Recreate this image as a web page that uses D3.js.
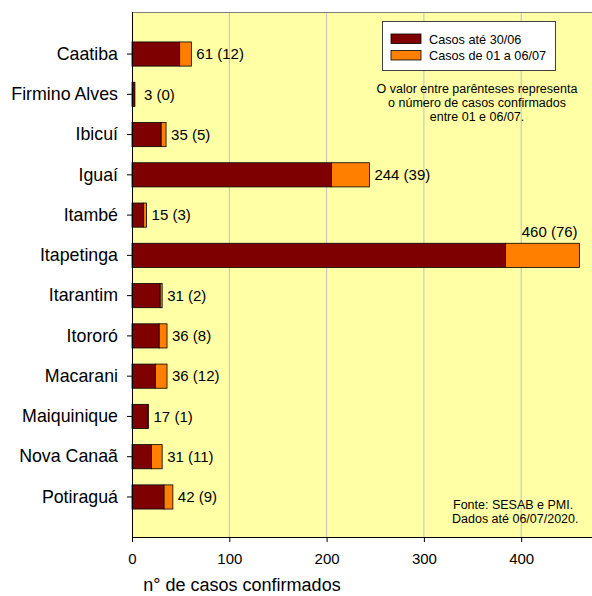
<!DOCTYPE html>
<html>
<head>
<meta charset="utf-8">
<script src="https://cdn.jsdelivr.net/npm/d3@7"></script>
<style>
  html, body { margin: 0; padding: 0; background: #fff; }
  svg { display: block; font-family: "Liberation Sans", Arial, sans-serif; }
</style>
</head>
<body>
<svg id="chart" width="592" height="596"></svg>
<script>
// Municípios e casos confirmados
const municipios = ["Caatiba", "Firmino Alves", "Ibicuí", "Iguaí", "Itambé", "Itapetinga",
                    "Itarantim", "Itororó", "Macarani", "Maiquinique", "Nova Canaã", "Potiraguá"];
const totalCasos = [61, 3, 35, 244, 15, 460, 31, 36, 36, 17, 31, 42];
const casosNovos = [12, 0, 5, 39, 3, 76, 2, 8, 12, 1, 11, 9];
const xTicks = [0, 100, 200, 300, 400];
const legendaSeries = ["Casos até 30/06", "Casos de 01 a 06/07"];
const notaLinhas = ["O valor entre parênteses representa", "o número de casos confirmados", "entre 01 e 06/07."];
const fonteLinhas = ["Fonte: SESAB e PMI.", "Dados até 06/07/2020."];

const COR_ATE = "#7f0000";
const COR_NOVOS = "#ff8000";

const svg = d3.select("#chart");
const plot = { left: 132, top: 12, right: 592, bottom: 537 };

const x = d3.scaleLinear().domain([0, 480]).range([plot.left, plot.left + 4.8 * 97.3]);
const y = d3.scaleBand().domain(municipios).range([33.9, 517.1])
  .paddingInner(0.4).paddingOuter(0.2);

const rows = municipios.map((m, i) => ({
  nome: m, total: totalCasos[i], novos: casosNovos[i], ate: totalCasos[i] - casosNovos[i]
}));

// plot background
svg.append("rect")
  .attr("x", plot.left).attr("y", plot.top)
  .attr("width", plot.right - plot.left).attr("height", plot.bottom - plot.top)
  .attr("fill", "#ffffa6");

// vertical gridlines
svg.append("g").selectAll("line").data(xTicks.filter(d => d > 0)).join("line")
  .attr("x1", d => x(d)).attr("x2", d => x(d))
  .attr("y1", plot.top).attr("y2", plot.bottom)
  .attr("stroke", "#c0c0c0").attr("stroke-width", 1);

// top border
svg.append("line")
  .attr("x1", plot.left).attr("x2", plot.right)
  .attr("y1", plot.top + 0.5).attr("y2", plot.top + 0.5)
  .attr("stroke", "#808080");

// stacked bars
const bars = svg.append("g");
bars.selectAll("rect.ate").data(rows).join("rect")
  .attr("class", "ate")
  .attr("x", d => x(0)).attr("y", d => y(d.nome))
  .attr("width", d => x(d.ate) - x(0)).attr("height", y.bandwidth())
  .attr("fill", COR_ATE).attr("stroke", "#000").attr("stroke-width", 0.8);
bars.selectAll("rect.novos").data(rows.filter(d => d.novos > 0)).join("rect")
  .attr("class", "novos")
  .attr("x", d => x(d.ate)).attr("y", d => y(d.nome))
  .attr("width", d => x(d.total) - x(d.ate)).attr("height", y.bandwidth())
  .attr("fill", COR_NOVOS).attr("stroke", "#000").attr("stroke-width", 0.8);

// value labels
const maxTotal = d3.max(totalCasos);
svg.append("g").selectAll("text").data(rows).join("text")
  .attr("x", d => d.total === maxTotal ? x(d.total) - 2 : x(d.total) + (d.novos === 0 ? 9 : 5))
  .attr("y", d => d.total === maxTotal ? y(d.nome) - 6 : y(d.nome) + y.bandwidth() / 2)
  .attr("dy", d => d.total === maxTotal ? 0 : "0.35em")
  .attr("text-anchor", d => d.total === maxTotal ? "end" : "start")
  .attr("font-size", 15).attr("fill", "#000")
  .text(d => `${d.total} (${d.novos})`);

// y axis
const yAxis = svg.append("g").attr("transform", `translate(${plot.left},0)`)
  .call(d3.axisLeft(y).tickSize(5).tickPadding(9));
yAxis.select(".domain").attr("d", `M0.5,${plot.top}V${plot.bottom}`).attr("stroke", "#000");
yAxis.selectAll(".tick line").attr("stroke", "#000");
yAxis.selectAll("text").attr("font-size", 17.8).attr("fill", "#000")
  .attr("font-family", "Liberation Sans, Arial, sans-serif");

// x axis
const xAxis = svg.append("g").attr("transform", `translate(0,${plot.bottom})`)
  .call(d3.axisBottom(x).tickValues(xTicks).tickSize(5).tickPadding(11).tickSizeOuter(0));
xAxis.select(".domain").attr("d", `M${plot.left},0.5H${plot.right}`).attr("stroke", "#000");
xAxis.selectAll(".tick line").attr("stroke", "#000");
xAxis.selectAll("text").attr("font-size", 15).attr("fill", "#000")
  .attr("font-family", "Liberation Sans, Arial, sans-serif");

// x axis title
svg.append("text")
  .attr("x", x(0) + 110).attr("y", 591)
  .attr("text-anchor", "middle").attr("font-size", 18).attr("fill", "#000")
  .text("n° de casos confirmados");

// legend
const leg = svg.append("g");
leg.append("rect").attr("x", 382.5).attr("y", 21.5).attr("width", 173).attr("height", 49)
  .attr("fill", "#fff").attr("stroke", "#404040").attr("stroke-width", 1);
const legCores = [COR_ATE, COR_NOVOS];
legendaSeries.forEach((s, i) => {
  const yy = 34 + i * 16.5;
  leg.append("rect").attr("x", 391).attr("y", yy).attr("width", 30).attr("height", 9.5)
    .attr("fill", legCores[i]).attr("stroke", "#000").attr("stroke-width", 0.8);
  leg.append("text").attr("x", 429).attr("y", yy + 9.5)
    .attr("font-size", 12.7).attr("fill", "#000").text(s);
});

// note
svg.append("g").selectAll("text").data(notaLinhas).join("text")
  .attr("x", 477).attr("y", (d, i) => 93 + i * 13.8)
  .attr("text-anchor", "middle").attr("font-size", 12.5).attr("fill", "#000")
  .text(d => d);

// source
svg.append("g").selectAll("text").data(fonteLinhas).join("text")
  .attr("x", (d, i) => i === 0 ? 453 : 452).attr("y", (d, i) => 509 + i * 14)
  .attr("font-size", 12.5).attr("fill", "#000")
  .text(d => d);
</script>
</body>
</html>
